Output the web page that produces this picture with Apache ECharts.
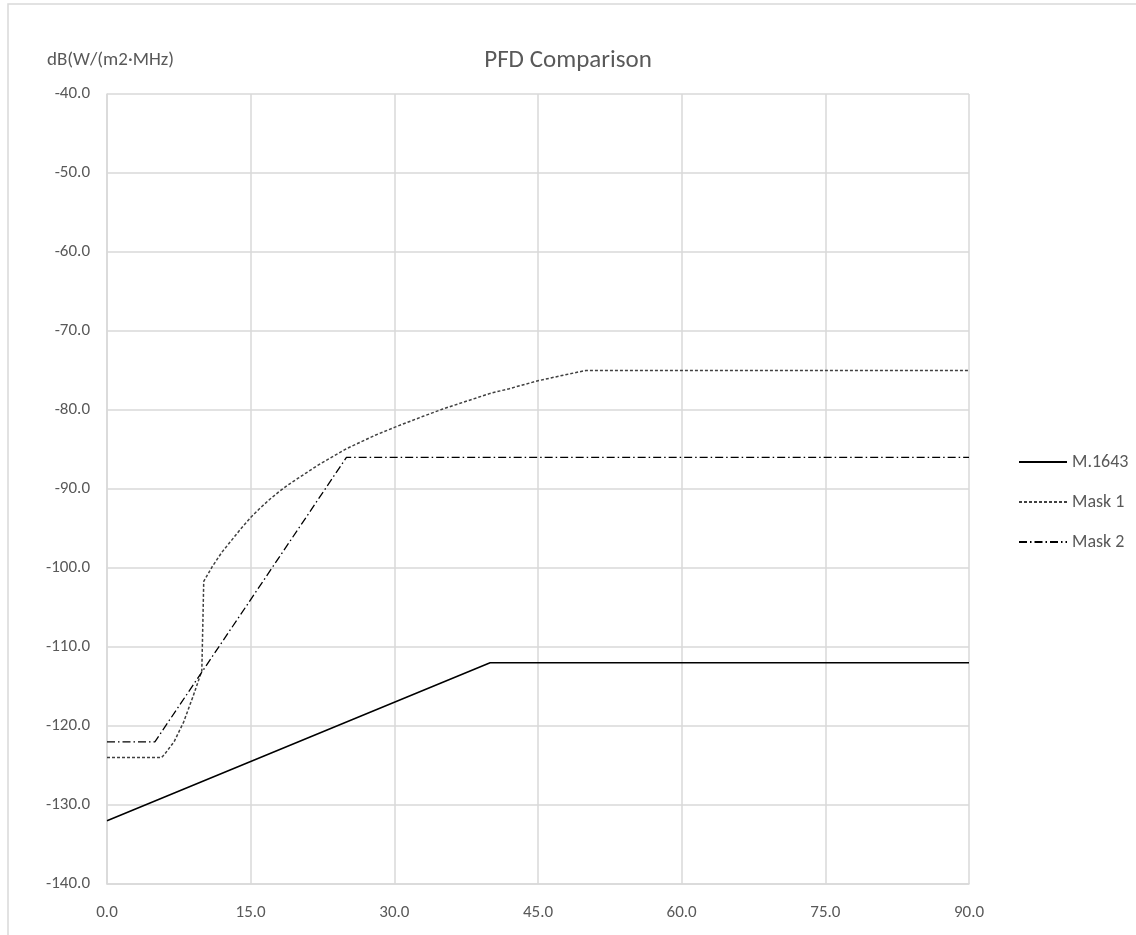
<!DOCTYPE html>
<html>
<head>
<meta charset="utf-8">
<script src="https://cdn.jsdelivr.net/npm/echarts@6/dist/echarts.min.js"></script>
<style>
html,body{margin:0;padding:0;background:#fff;}
#chart{width:1136px;height:935px;}
</style>
</head>
<body>
<div id="chart"></div>
<script>
// Elevation angle (deg) / PFD (dB(W/(m2·MHz)))
const m1643X = [0, 40, 90];
const m1643Y = [-132, -112, -112];

const mask1X = [0, 5, 5.7, 6, 7, 8, 9, 9.9, 10.1, 11, 12, 13, 14, 15, 16, 17, 18, 19, 20, 22, 25, 28, 30, 33, 35, 38, 40, 42, 45, 48, 50, 90];
const mask1Y = [-124, -124, -124, -123.6, -122, -119.5, -116.2, -113, -101.7, -99.8, -98.0, -96.5, -95.0, -93.6, -92.4, -91.3, -90.3, -89.4, -88.6, -87.0, -84.9, -83.2, -82.2, -80.8, -79.9, -78.7, -77.9, -77.3, -76.3, -75.5, -75.0, -75.0];

const mask2X = [0, 5, 25, 90];
const mask2Y = [-122, -122, -86, -86];

const seriesNames = ['M.1643', 'Mask 1', 'Mask 2'];
const xTicks = {min: 0, max: 90, step: 15};
const yTicks = {min: -140, max: -40, step: 10};

function pairs(xs, ys) { return xs.map((x, i) => [x, ys[i]]); }

const FONT = 'Carlito, Lato, "Open Sans", sans-serif';
const TXT = '#595959';
const GRID = '#d9d9d9';

const chart = echarts.init(document.getElementById('chart'), null, {renderer: 'canvas'});
chart.setOption({
  backgroundColor: '#fff',
  animation: false,
  title: {
    text: 'PFD Comparison',
    left: 'center',
    top: 48,
    padding: 0,
    textStyle: {fontFamily: FONT, fontSize: 25, fontWeight: 'normal', color: TXT}
  },
  graphic: [{
    type: 'rect',
    shape: {x: 8, y: 4, width: 1140, height: 950},
    style: {fill: null, stroke: GRID, lineWidth: 1.5},
    silent: true, z: -1
  }],
  legend: {
    orient: 'vertical',
    left: 1018,
    top: 453,
    padding: 0,
    itemWidth: 48,
    itemHeight: 20,
    itemGap: 22,
    itemStyle: {color: 'rgba(0,0,0,0)', borderWidth: 0, opacity: 0},
    textStyle: {fontFamily: FONT, fontSize: 18, color: TXT},
    data: seriesNames
  },
  grid: {left: 107, right: 167, top: 94, bottom: 51, containLabel: false},
  xAxis: {
    type: 'value',
    min: xTicks.min, max: xTicks.max, interval: xTicks.step,
    axisLine: {show: true, lineStyle: {color: GRID, width: 1.5}},
    axisTick: {show: false},
    splitLine: {show: true, lineStyle: {color: GRID, width: 1.5}},
    axisLabel: {margin: 20, fontFamily: FONT, fontSize: 17, color: TXT,
      formatter: v => v.toFixed(1)}
  },
  yAxis: {
    type: 'value',
    min: yTicks.min, max: yTicks.max, interval: yTicks.step,
    name: 'dB(W/(m2·MHz)',
    nameLocation: 'end',
    nameGap: 24,
    nameTextStyle: {fontFamily: FONT, fontSize: 19, color: TXT, align: 'left', padding: [0, 0, 0, -60]},
    axisLine: {show: true, lineStyle: {color: GRID, width: 1.5}},
    axisTick: {show: false},
    splitLine: {show: true, lineStyle: {color: GRID, width: 1.5}},
    axisLabel: {margin: 17, fontFamily: FONT, fontSize: 17, color: TXT,
      formatter: v => v.toFixed(1)}
  },
  series: [
    {
      name: seriesNames[0], type: 'line', symbol: 'none',
      data: pairs(m1643X, m1643Y),
      lineStyle: {color: '#000', width: 1.5, type: 'solid'},
      itemStyle: {color: '#000'}
    },
    {
      name: seriesNames[1], type: 'line', symbol: 'none',
      data: pairs(mask1X, mask1Y),
      lineStyle: {color: '#404040', width: 1.5, type: [3, 2]},
      itemStyle: {color: '#404040'}
    },
    {
      name: seriesNames[2], type: 'line', symbol: 'none',
      data: pairs(mask2X, mask2Y),
      lineStyle: {color: '#000', width: 1.3, type: [8, 3, 1.5, 3]},
      itemStyle: {color: '#000'}
    }
  ]
});
</script>
</body>
</html>
